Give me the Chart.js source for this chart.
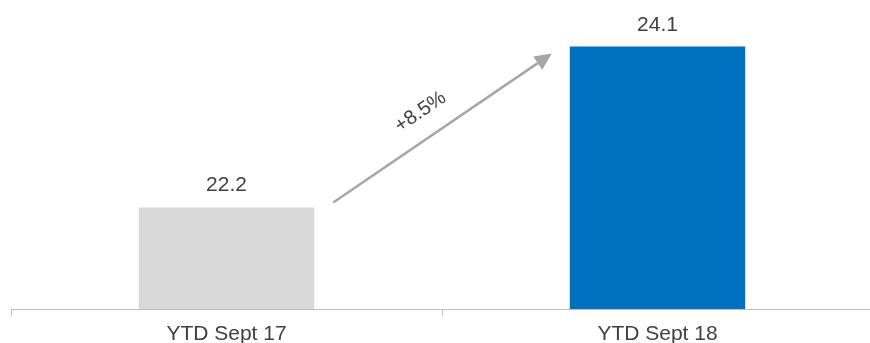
<!DOCTYPE html>
<html><head><meta charset="utf-8">
<script src="https://cdn.jsdelivr.net/npm/chart.js@4/dist/chart.umd.min.js"></script>
<style>html,body{margin:0;padding:0;background:#fff;overflow:hidden;}#wrap{width:870px;height:343px;overflow:hidden;}</style>
</head><body><div id="wrap"><canvas id="c" width="873" height="343" style="width:873px;height:343px;display:block"></canvas></div>
<script>
const categories = ["YTD Sept 17", "YTD Sept 18"];
const values = [22.2, 24.1];
const barColors = ["#d9d9d9", "#0070c0"];
const changeLabel = "+8.5%";

const FONT = "'Liberation Sans', Arial, sans-serif";

const overlay = {
  id: 'overlay',
  afterDatasetsDraw(chart) {
    const ctx = chart.ctx;
    const meta = chart.getDatasetMeta(0);
    ctx.save();
    ctx.fillStyle = '#404040';
    ctx.font = '21px ' + FONT;
    ctx.textAlign = 'center';
    ctx.textBaseline = 'alphabetic';
    meta.data.forEach((bar, i) => {
      ctx.fillText(values[i].toFixed(1), bar.x, bar.y - 16);
    });
    // arrow
    const b1 = meta.data[0], b2 = meta.data[1];
    const x1 = b1.x + b1.width / 2 + 19, y1 = b1.y - 5;
    const x2 = b2.x - b2.width / 2 - 18, y2 = b2.y + 7;
    const ang = Math.atan2(y2 - y1, x2 - x1);
    const head = 17, hw = 8;
    ctx.strokeStyle = '#a6a6a6';
    ctx.fillStyle = '#a6a6a6';
    ctx.lineWidth = 2.5;
    ctx.beginPath();
    ctx.moveTo(x1, y1);
    ctx.lineTo(x2 - Math.cos(ang) * head, y2 - Math.sin(ang) * head);
    ctx.stroke();
    ctx.beginPath();
    ctx.moveTo(x2, y2);
    ctx.lineTo(x2 - Math.cos(ang) * head - Math.sin(ang) * hw, y2 - Math.sin(ang) * head + Math.cos(ang) * hw);
    ctx.lineTo(x2 - Math.cos(ang) * head + Math.sin(ang) * hw, y2 - Math.sin(ang) * head - Math.cos(ang) * hw);
    ctx.closePath();
    ctx.fill();
    // label
    const mx = (x1 + x2) / 2, my = (y1 + y2) / 2;
    ctx.translate(mx - 22, my - 16);
    ctx.rotate(ang);
    ctx.fillStyle = '#404040';
    ctx.font = '20px ' + FONT;
    ctx.textAlign = 'center';
    ctx.textBaseline = 'middle';
    ctx.fillText(changeLabel, 0, 0);
    ctx.restore();
  }
};

new Chart(document.getElementById('c'), {
  type: 'bar',
  data: {
    labels: categories,
    datasets: [{
      data: values,
      backgroundColor: barColors,
      borderWidth: 0,
      barPercentage: 0.407,
      categoryPercentage: 1.0
    }]
  },
  options: {
    responsive: false,
    animation: false,
    layout: { padding: { left: 11, right: 0, top: 0, bottom: 0 } },
    plugins: { legend: { display: false }, tooltip: { enabled: false } },
    scales: {
      y: { display: false, min: 21, max: 24.65 },
      x: {
        offset: true,
        afterFit(scale) { scale.height = 34; },
        border: { display: true, color: '#bfbfbf', width: 1 },
        grid: { offset: true, drawOnChartArea: false, drawTicks: true, tickLength: 7, color: '#bfbfbf' },
        ticks: { color: '#404040', font: { family: FONT, size: 21, lineHeight: 1.0 }, padding: 8, maxRotation: 0 }
      }
    }
  },
  plugins: [overlay]
});
</script>
</body></html>
